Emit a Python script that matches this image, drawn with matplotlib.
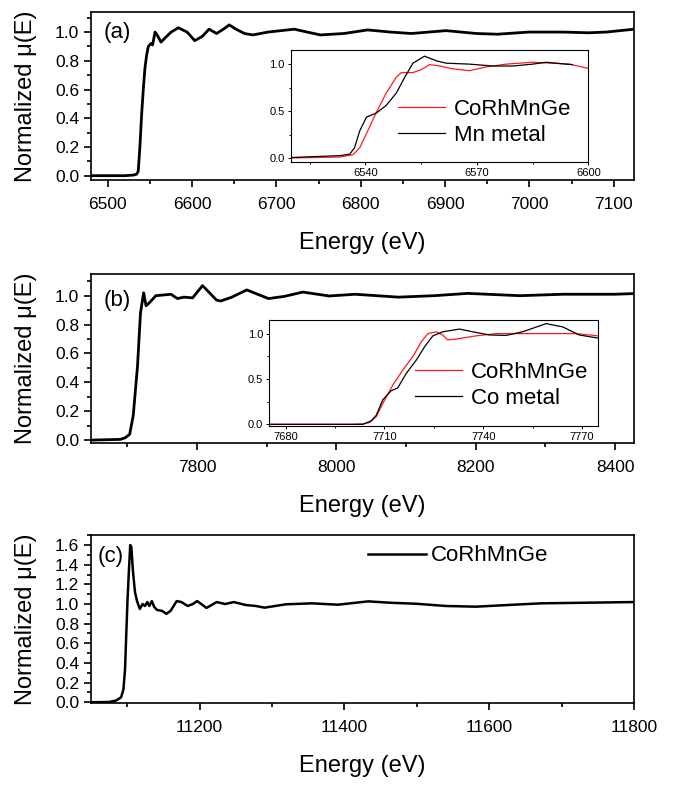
import numpy as np
import matplotlib.pyplot as plt
from matplotlib.ticker import MultipleLocator

plt.rcParams['font.family'] = ['Liberation Sans', 'DejaVu Sans']
plt.rcParams['lines.solid_joinstyle'] = 'round'

# (a) Mn K-edge, CoRhMnGe
e_a = [6480, 6520, 6530, 6534, 6536, 6538, 6540, 6542, 6544, 6546, 6548, 6551, 6553,
       6556, 6558.5, 6563, 6568, 6575, 6583.6, 6594, 6603, 6612, 6620, 6629, 6637, 6644,
       6652, 6662, 6672, 6690, 6721, 6752, 6780, 6808, 6835, 6860, 6901, 6937, 6962,
       6999, 7040, 7070, 7091, 7124]
mu_a = [0.0, 0.0, 0.004, 0.01, 0.03, 0.2, 0.42, 0.6, 0.75, 0.84, 0.9, 0.92, 0.91,
        1.0, 0.98, 0.93, 0.96, 1.0, 1.03, 1.0, 0.94, 0.97, 1.02, 0.99, 1.02, 1.05,
        1.02, 0.99, 0.98, 1.0, 1.02, 0.98, 0.99, 1.015, 1.0, 0.99, 1.01, 0.99, 0.985,
        1.0, 1.0, 0.995, 1.0, 1.02]

# inset (a): edge region, sample vs Mn metal
e_a_red = [6520, 6533.1, 6536.7, 6538.5, 6540.3, 6543, 6545.6, 6548.3, 6549.7, 6552.8,
           6555, 6557.3, 6560, 6563.5, 6568, 6572.5, 6577.9, 6585, 6590.4, 6594.9, 6600]
mu_a_red = [0.0, 0.01, 0.035, 0.11, 0.26, 0.49, 0.69, 0.86, 0.91, 0.91,
            0.94, 0.995, 0.98, 0.95, 0.93, 0.97, 1.0, 1.02, 1.01, 1.0, 0.955]
e_a_blk = [6520, 6533.1, 6535.8, 6537.1, 6538.5, 6540.3, 6543, 6545.6, 6548.3, 6550.6,
           6552.8, 6555.9, 6559.1, 6561.8, 6568, 6574.3, 6579.7, 6585, 6588.7, 6594, 6595.7]
mu_a_blk = [0.005, 0.025, 0.04, 0.11, 0.29, 0.435, 0.48, 0.56, 0.69, 0.86,
            1.01, 1.085, 1.035, 1.01, 1.0, 0.98, 0.98, 1.0, 1.02, 1.0, 0.995]

# (b) Co K-edge, CoRhMnGe
e_b = [7648, 7690, 7697, 7703.5, 7708.6, 7714.7, 7719, 7723.5, 7727, 7731.5, 7741,
       7762.7, 7772, 7781, 7793.7, 7808, 7828, 7834, 7850, 7871.5, 7902.6, 7925, 7952,
       7989.6, 8026.9, 8089, 8140, 8188.6, 8263, 8325, 8400, 8428]
mu_b = [0.0, 0.005, 0.016, 0.04, 0.17, 0.51, 0.88, 1.02, 0.93, 0.95, 1.0,
        1.01, 0.98, 0.99, 0.985, 1.07, 0.97, 0.963, 0.99, 1.04, 0.98, 0.995, 1.025,
        0.998, 1.01, 0.99, 1.0, 1.016, 1.0, 1.01, 1.01, 1.015]

# inset (b): edge region, sample vs Co metal
e_b_red = [7675, 7700, 7703.5, 7705.5, 7707.5, 7709.5, 7712.5, 7715.6, 7718.6, 7721.2,
           7723.2, 7725.7, 7727.7, 7729.2, 7731.8, 7737.8, 7743.9, 7759.1, 7768.2, 7775]
mu_b_red = [0.0, 0.0, 0.005, 0.02, 0.085, 0.23, 0.43, 0.6, 0.745, 0.91,
            1.0, 1.02, 0.985, 0.93, 0.94, 0.975, 1.0, 1.0, 1.0, 0.975]
e_b_blk = [7675, 7700, 7703.5, 7706, 7707.5, 7709.5, 7712, 7714, 7716.6, 7719.7, 7722.2,
           7724.7, 7727.7, 7732.8, 7736.8, 7741.9, 7747, 7752, 7759.1, 7764.1, 7769.2, 7775]
mu_b_blk = [0.0, 0.0, 0.0, 0.04, 0.1, 0.27, 0.37, 0.4, 0.56, 0.71, 0.855,
            0.975, 1.02, 1.05, 1.02, 0.985, 0.98, 1.02, 1.11, 1.075, 0.985, 0.95]

# (c) Rh K-edge, CoRhMnGe
e_c = [11050, 11075, 11084.4, 11091.5, 11094.8, 11097, 11098.6, 11100.4, 11102.3,
       11104.2, 11105.7, 11108, 11110.8, 11113.6, 11117.4, 11121.2, 11124.5, 11127.8,
       11130.6, 11134, 11137.3, 11141.1, 11148.2, 11154.2, 11159.9, 11168.4, 11175,
       11183.6, 11190.6, 11196.7, 11202.4, 11209.5, 11216.6, 11223.7, 11235.4, 11247.3,
       11263.7, 11277.9, 11289.6, 11319, 11355, 11391, 11433, 11463, 11498.5, 11540,
       11582, 11618, 11671.6, 11731, 11800]
mu_c = [0.0, 0.003, 0.017, 0.05, 0.13, 0.33, 0.67, 1.03, 1.33,
        1.6, 1.58, 1.33, 1.12, 1.03, 0.95, 1.0, 0.98, 1.02,
        0.98, 1.03, 0.97, 0.94, 0.93, 0.9, 0.93, 1.03, 1.02,
        0.98, 1.0, 1.03, 1.0, 0.96, 0.99, 1.02, 1.0, 1.02,
        0.99, 0.98, 0.963, 0.997, 1.007, 0.993, 1.027, 1.013, 1.003, 0.98,
        0.973, 0.987, 1.007, 1.013, 1.02]

RED = '#ff1a1a'


def style_main(ax, xlim, ylim, xmaj, xmin, ymaj, ymin):
    ax.set_xlim(*xlim)
    ax.set_ylim(*ylim)
    ax.xaxis.set_major_locator(MultipleLocator(xmaj))
    ax.xaxis.set_minor_locator(MultipleLocator(xmin))
    ax.yaxis.set_major_locator(MultipleLocator(ymaj))
    ax.yaxis.set_minor_locator(MultipleLocator(ymin))
    ax.tick_params(which='both', direction='out', width=1.2, labelsize=12.5)
    ax.tick_params(which='major', length=5)
    ax.tick_params(which='minor', length=3)
    ax.tick_params(axis='x', pad=7)
    for s in ax.spines.values():
        s.set_linewidth(1.2)
    ax.set_xlabel('Energy (eV)', fontsize=17)
    ax.set_ylabel('Normalized μ(E)', fontsize=17)
    ax.xaxis.set_label_coords(0.5, -0.31)
    ax.yaxis.set_label_coords(-0.10, 0.5)


def style_inset(ax, xlim, ylim, xmaj, xmin):
    ax.set_xlim(*xlim)
    ax.set_ylim(*ylim)
    ax.xaxis.set_major_locator(MultipleLocator(xmaj))
    ax.xaxis.set_minor_locator(MultipleLocator(xmin))
    ax.yaxis.set_major_locator(MultipleLocator(0.5))
    ax.yaxis.set_minor_locator(MultipleLocator(0.25))
    ax.tick_params(which='both', direction='out', width=0.7, labelsize=8, pad=2)
    ax.tick_params(which='major', length=2.5)
    ax.tick_params(which='minor', length=1.5)
    ax.yaxis.set_major_formatter('{x:.1f}')
    for s in ax.spines.values():
        s.set_linewidth(0.8)


fig = plt.figure(figsize=(6.76, 7.87), dpi=100)

# panel (a)
ax1 = fig.add_axes([0.1346, 0.7713, 0.8033, 0.2135])
ax1.plot(e_a, mu_a, color='black', lw=2.0)
style_main(ax1, (6480, 7124), (-0.03, 1.14), 100, 50, 0.2, 0.1)
ax1.text(0.024, 0.875, '(a)', transform=ax1.transAxes, fontsize=16, va='center')

ins1 = fig.add_axes([0.4305, 0.7945, 0.4398, 0.1419])
ins1.plot(e_a_red, mu_a_red, color=RED, lw=0.9, label='CoRhMnGe')
ins1.plot(e_a_blk, mu_a_blk, color='black', lw=0.9, label='Mn metal')
style_inset(ins1, (6520, 6600), (-0.04, 1.15), 30, 15)
ins1.legend(loc='upper left', bbox_to_anchor=(0.36, 0.56), frameon=False, fontsize=16,
            handlelength=2.1, handletextpad=0.4, labelspacing=0.2, borderpad=0,
            borderaxespad=0)

# panel (b)
ax2 = fig.add_axes([0.1346, 0.4371, 0.8033, 0.2147])
ax2.plot(e_b, mu_b, color='black', lw=2.0)
style_main(ax2, (7648, 8427), (-0.02, 1.15), 200, 100, 0.2, 0.1)
ax2.text(0.024, 0.846, '(b)', transform=ax2.transAxes, fontsize=16, va='center')

ins2 = fig.add_axes([0.3984, 0.4591, 0.4867, 0.1343])
ins2.plot(e_b_red, mu_b_red, color=RED, lw=0.9, label='CoRhMnGe')
ins2.plot(e_b_blk, mu_b_blk, color='black', lw=0.9, label='Co metal')
style_inset(ins2, (7675, 7775), (-0.015, 1.15), 30, 15)
ins2.legend(loc='upper left', bbox_to_anchor=(0.443, 0.6), frameon=False, fontsize=16,
            handlelength=2.1, handletextpad=0.4, labelspacing=0.2, borderpad=0,
            borderaxespad=0)

# panel (c)
ax3 = fig.add_axes([0.1346, 0.1064, 0.8033, 0.2135])
ax3.plot(e_c, mu_c, color='black', lw=1.8, label='CoRhMnGe')
style_main(ax3, (11050, 11800), (-0.01, 1.7), 200, 100, 0.2, 0.1)
ax3.text(0.013, 0.871, '(c)', transform=ax3.transAxes, fontsize=16, va='center')
ax3.legend(loc='upper left', bbox_to_anchor=(0.51, 0.94), frameon=False, fontsize=16,
           handlelength=2.6, handletextpad=0.25, borderpad=0, borderaxespad=0)

fig.savefig('out.png', dpi=100)
